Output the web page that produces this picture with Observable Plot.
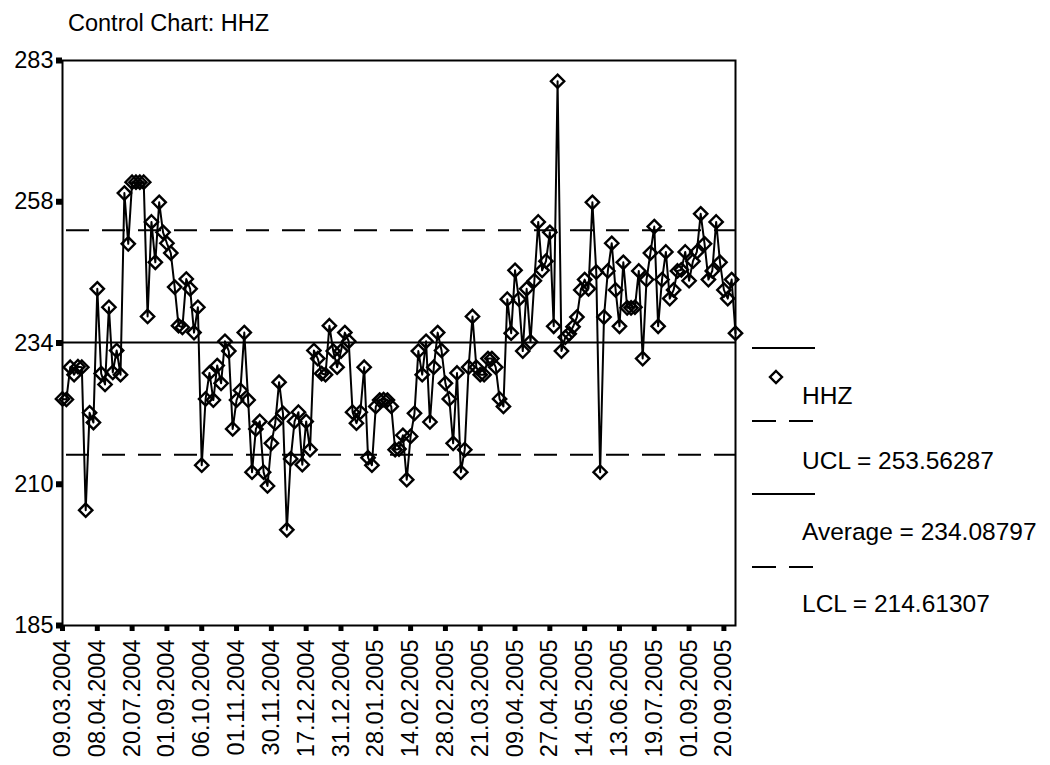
<!DOCTYPE html>
<html><head><meta charset="utf-8">
<script src="https://cdn.jsdelivr.net/npm/d3@7"></script>
<script src="https://cdn.jsdelivr.net/npm/@observablehq/plot@0.6"></script>
<style>
body{margin:0;background:#fff;}
#chart{position:relative;width:1050px;height:765px;font-family:"Liberation Sans",Arial,sans-serif;}
</style>
</head><body><div id="chart"></div>
<script>
const title = "Control Chart: HHZ";
const seriesName = "HHZ";
const values = [
224.3, 224.2, 229.8, 228.5, 229.9, 229.8, 205, 221.9, 220.2, 243.4,
228.7, 226.8, 240.2, 228.9, 232.7, 228.5, 260, 251.2, 261.9, 261.9,
261.9, 261.9, 238.6, 255, 248, 258.4, 253.2, 251.3, 249.6, 243.7,
237, 236.7, 245.1, 243.4, 235.8, 240.2, 212.8, 224.3, 228.8, 224.1,
230.1, 227, 234.3, 232.6, 219.1, 224.1, 225.8, 235.8, 224.1, 211.6,
219.1, 220.4, 211.6, 209.2, 216.6, 220.1, 227.2, 221.8, 201.6, 213.9,
220.4, 222, 212.9, 220.4, 215.5, 232.7, 231.3, 228.7, 228.5, 237,
232.6, 229.8, 232.6, 235.8, 234.3, 222, 220.1, 222, 229.8, 214.1,
212.8, 223, 224.1, 224.2, 224.1, 223, 215.5, 215.6, 218, 210.3,
217.8, 221.8, 232.6, 228.5, 234.3, 220.3, 229.8, 235.8, 232.7, 227,
224.3, 216.6, 228.8, 211.6, 215.5, 229.8, 238.6, 229.8, 228.5, 228.5,
231.3, 231.3, 229.8, 224.3, 223, 241.6, 235.7, 246.6, 241.6, 232.6,
243.4, 234.2, 244.8, 255, 246.6, 248.2, 253.2, 236.9, 279.4, 232.6,
235, 235.6, 236.8, 238.5, 243.2, 245, 243.4, 258.4, 246.3, 211.6,
238.5, 246.5, 251.3, 243.2, 236.9, 248, 240.1, 240.1, 240.2, 246.5,
231.3, 245, 249.6, 254.2, 236.9, 245, 249.8, 241.7, 243.2, 246.5,
246.7, 249.8, 244.8, 248.2, 249.8, 256.4, 251.2, 245, 246.5, 255,
248, 243.2, 241.7, 245, 235.7
];
const dateLabels = ["09.03.2004","08.04.2004","20.07.2004","01.09.2004","06.10.2004","01.11.2004","30.11.2004","17.12.2004","31.12.2004","28.01.2005","14.02.2005","28.02.2005","21.03.2005","09.04.2005","27.04.2005","14.05.2005","13.06.2005","19.07.2005","01.09.2005","20.09.2005"];
const labelStep = 9;
const yTicks = [185, 209.5, 234, 258.5, 283];
const yTickLabels = ["185", "210", "234", "258", "283"];
const UCL = 253.56287, AVG = 234.08797, LCL = 214.61307;
const legendLabels = ["HHZ", "UCL = 253.56287", "Average = 234.08797", "LCL = 214.61307"];

const data = values.map((v, i) => ({i, v}));
const xTicks = dateLabels.map((d, k) => k * labelStep);
const FS = 23.5;
const LFS = 24.5;
const R = 6;

const svg = Plot.plot({
  width: 1050, height: 765,
  marginLeft: 62, marginRight: 315, marginTop: 60, marginBottom: 140,
  style: {fontFamily: '"Liberation Sans", Arial, sans-serif', fontSize: FS + "px", color: "#000", background: "#fff", overflow: "visible"},
  x: {domain: [0, values.length - 1]},
  y: {domain: [185, 283]},
  marks: [
    Plot.ruleY([UCL, LCL], {stroke: "#000", strokeWidth: 2, strokeDasharray: "23,13", strokeDashoffset: 32}),
    Plot.ruleY([AVG], {stroke: "#000", strokeWidth: 2}),
    Plot.line(data, {x: "i", y: "v", stroke: "#000", strokeWidth: 2}),
    Plot.dot(data, {x: "i", y: "v", symbol: "diamond2", r: R, stroke: "#000", strokeWidth: 2.4, fill: "none"}),
    Plot.frame({stroke: "#000", strokeWidth: 2}),
    Plot.axisY({ticks: yTicks, tickFormat: d => yTickLabels[yTicks.indexOf(d)], tickSize: 6, strokeWidth: 6, tickPadding: 3, label: null, fontSize: FS}),
    Plot.axisX({ticks: xTicks, tickFormat: d => dateLabels[Math.round(d / labelStep)], tickRotate: -90, tickSize: 6, strokeWidth: 5, tickPadding: 8, label: null, fontSize: FS})
  ]
});

const s = d3.select(svg);
s.append("text").attr("x", 68).attr("y", 31).attr("text-anchor", "start")
  .attr("font-size", FS).attr("fill", "#000").text(title);

const lg = s.append("g").attr("fill", "none").attr("stroke", "#000").attr("stroke-width", 2);
const lineYs = [348, 421, 494, 567];
const dashed = [false, true, false, true];
lineYs.forEach((y, k) => {
  lg.append("line").attr("x1", 752).attr("x2", 815).attr("y1", y).attr("y2", y)
    .attr("stroke-dasharray", dashed[k] ? "24,13" : null);
});
lg.append("path").attr("transform", "translate(776,377)").attr("stroke-width", 2.4)
  .attr("d", d3.symbol(d3.symbolDiamond2, Math.PI * 5.4 * 5.4)());
const textYs = [395, 460, 531, 603];
legendLabels.forEach((t, k) => {
  s.append("text").attr("x", 802).attr("y", textYs[k]).attr("dy", "0.35em")
    .attr("text-anchor", "start")
    .attr("font-size", LFS).attr("fill", "#000").text(t);
});

document.getElementById("chart").appendChild(svg);
</script>
</body></html>
